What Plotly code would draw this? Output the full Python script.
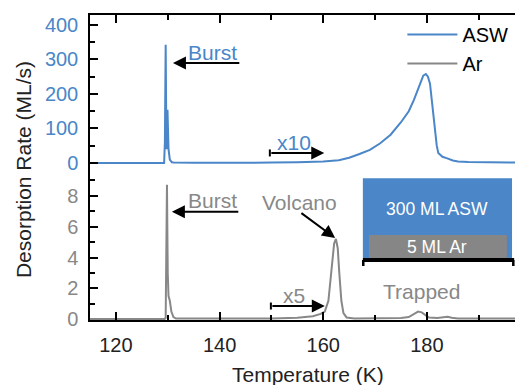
import plotly.graph_objects as go

# ---- data -------------------------------------------------------------
# ASW desorption (top panel, ML/s); values above 150 K are shown x10
asw_temp = [115, 125, 129.3, 129.45, 129.6, 129.75, 129.95, 130.15, 130.4, 130.8,
            131.2, 135, 140, 145, 150, 155, 160, 163, 165, 167, 169, 171, 173,
            175, 176.5, 177.5, 178.5, 179.3, 179.8, 180.2, 180.6, 181.0, 181.3,
            181.6, 181.9, 182.2, 183, 183.8, 185, 186, 188, 192, 197]
asw_rate = [0, 0, 0, 60, 343, 40, 154, 40, 10, 2,
            1, 0.5, 0.3, 0.5, 1, 2, 4, 8, 15, 26, 38, 57, 82,
            118, 150, 183, 220, 253, 258, 250, 230, 175, 130,
            87, 50, 29, 18, 14, 7, 4, 2.5, 2, 1.5]

# Ar desorption (bottom panel, ML/s); values above 150 K are shown x5
ar_temp = [115, 129.4, 129.6, 129.85, 130.0, 130.15, 130.4, 130.7, 131.1, 131.6,
           135, 145, 150, 155, 158, 159.5, 160.3, 161, 161.6, 162.1, 162.45,
           162.8, 163.1, 163.5, 163.9, 164.5, 166, 170, 175, 176.5, 177.5,
           178.3, 179, 179.7, 180.4, 182, 183.3, 184, 184.8, 186, 190, 197]
ar_rate = [0.02, 0.02, 0.1, 8.7, 3, 1.5, 1.2, 0.5, 0.15, 0.05,
           0.05, 0.05, 0.06, 0.1, 0.2, 0.35, 0.5, 1.2, 3.2, 4.9, 5.2,
           4.6, 3, 1.2, 0.4, 0.12, 0.06, 0.05, 0.08, 0.15, 0.35,
           0.5, 0.45, 0.3, 0.12, 0.08, 0.12, 0.17, 0.1, 0.06, 0.05, 0.05]

x_ticks = [120, 140, 160, 180]
asw_ticks = [0, 100, 200, 300, 400]
ar_ticks = [0, 2, 4, 6, 8]

BLUE = "#4a86c8"
GREY = "#888888"
FONT = "Liberation Sans, Arial, sans-serif"
X_RANGE = [115, 197]

fig = go.Figure()
fig.add_trace(go.Scatter(x=asw_temp, y=asw_rate, name="ASW", mode="lines",
                         line=dict(color=BLUE, width=2), xaxis="x2", yaxis="y2"))
fig.add_trace(go.Scatter(x=ar_temp, y=ar_rate, name="Ar", mode="lines",
                         line=dict(color=GREY, width=2), xaxis="x", yaxis="y"))

axis_common = dict(showline=True, linecolor="black", linewidth=1.5,
                   ticks="inside", tickcolor="black", tickwidth=1.5,
                   showgrid=False, zeroline=False)

split = 0.4656
fig.update_layout(
    width=515, height=385,
    margin=dict(l=90, r=0, t=15, b=65),
    paper_bgcolor="white", plot_bgcolor="white",
    font=dict(family=FONT, size=20, color="black"),
    showlegend=True,
    legend=dict(x=0.735, y=1.0, xanchor="left", yanchor="top",
                bgcolor="rgba(0,0,0,0)", font=dict(size=20),
                tracegroupgap=0, itemwidth=50),
    xaxis=dict(range=X_RANGE, anchor="y", tickvals=x_ticks, ticklen=8,
               minor=dict(ticks="inside", dtick=10, tick0=120, ticklen=5,
                          tickcolor="black", tickwidth=1.5),
               tickfont=dict(size=20, color="#222"), ticklabelstandoff=6,
               **axis_common),
    xaxis2=dict(range=X_RANGE, anchor="y2", overlaying="x", side="top",
                tickvals=x_ticks, ticklen=8, showticklabels=False,
                minor=dict(ticks="inside", dtick=10, tick0=120, ticklen=5,
                           tickcolor="black", tickwidth=1.5),
                **axis_common),
    yaxis=dict(domain=[0, split], range=[-0.045, 9.146], tickvals=ar_ticks,
               ticklen=8, tickfont=dict(size=20, color=GREY),
               minor=dict(ticks="inside", dtick=1, tick0=0, ticklen=5,
                          tickcolor="black", tickwidth=1.5),
               ticklabelstandoff=6, **axis_common),
    yaxis2=dict(domain=[split, 1], range=[-43.6, 429], tickvals=asw_ticks,
                ticklen=8, tickfont=dict(size=20, color=BLUE),
                minor=dict(ticks="inside", dtick=50, tick0=0, ticklen=5,
                           tickcolor="black", tickwidth=1.5),
                ticklabelstandoff=6, **axis_common),
)

ann = []
shapes = []


def label(text, x, y, yref, color, size=21):
    ann.append(dict(text=text, x=x, y=y, xref="x", yref=yref, showarrow=False,
                    font=dict(size=size, color=color, family=FONT),
                    xanchor="center", yanchor="middle"))


def arrow(x, y, ax, ay, yref, start_bar=False):
    ann.append(dict(text="", x=x, y=y, ax=ax, ay=ay, xref="x", yref=yref,
                    axref="x", ayref=yref, showarrow=True, arrowhead=2,
                    arrowsize=1.3, arrowwidth=2, arrowcolor="black"))
    if start_bar:
        # short vertical bar marking where the magnified range begins
        shapes.append(dict(type="line", xref="x", yref=yref, ysizemode="pixel",
                           yanchor=ay, x0=ax, x1=ax, y0=-3.5, y1=3.5,
                           line=dict(color="black", width=2)))


# top panel
label("Burst", 138.7, 320, "y2", BLUE)
arrow(131.0, 290, 144.1, 290, "y2")
label("x10", 154.4, 60, "y2", BLUE)
arrow(160.2, 29, 149.7, 29, "y2", start_bar=True)

# bottom panel
label("Burst", 138.7, 7.72, "y", GREY)
arrow(130.8, 6.96, 143.9, 6.96, "y")
label("Volcano", 155.5, 7.59, "y", GREY)
arrow(162.3, 5.26, 155.5, 6.94, "y")
label("x5", 154.4, 1.51, "y", GREY)
arrow(160.3, 0.86, 149.9, 0.86, "y", start_bar=True)
label("Trapped", 178.9, 1.77, "y", GREY)

# axis titles
ann.append(dict(text="Desorption Rate (ML/s)", x=-0.155, y=0.492,
                xref="paper", yref="paper", showarrow=False, textangle=-90,
                font=dict(size=21, color="#222", family=FONT),
                xanchor="center", yanchor="middle"))
ann.append(dict(text="Temperature (K)", x=0.512, y=-0.18,
                xref="paper", yref="paper", showarrow=False,
                font=dict(size=21, color="#222", family=FONT),
                xanchor="center", yanchor="middle"))

# inset: sample stack schematic
shapes += [
    dict(type="rect", xref="paper", yref="paper", x0=0.642, x1=0.993,
         y0=0.203, y1=0.4646, fillcolor=BLUE, line=dict(width=0), layer="above"),
    dict(type="rect", xref="paper", yref="paper", x0=0.6565, x1=0.981,
         y0=0.203, y1=0.2787, fillcolor="#868686", line=dict(width=0), layer="above"),
    dict(type="line", xref="paper", yref="paper", x0=0.642, x1=0.998,
         y0=0.1967, y1=0.1967, line=dict(color="black", width=4), layer="above"),
    dict(type="line", xref="paper", yref="paper", x0=0.643, x1=0.643,
         y0=0.1967, y1=0.177, line=dict(color="black", width=2.5), layer="above"),
    dict(type="line", xref="paper", yref="paper", x0=0.996, x1=0.996,
         y0=0.1967, y1=0.177, line=dict(color="black", width=2.5), layer="above"),
]
ann.append(dict(text="300 ML ASW", x=0.8165, y=0.364, xref="paper", yref="paper",
                xanchor="center", yanchor="middle", showarrow=False,
                font=dict(size=17.5, color="white", family=FONT)))
ann.append(dict(text="5 ML Ar", x=0.8165, y=0.239, xref="paper", yref="paper",
                xanchor="center", yanchor="middle", showarrow=False,
                font=dict(size=17.5, color="white", family=FONT)))

fig.update_layout(annotations=ann, shapes=shapes)
fig.write_html("out.html")
